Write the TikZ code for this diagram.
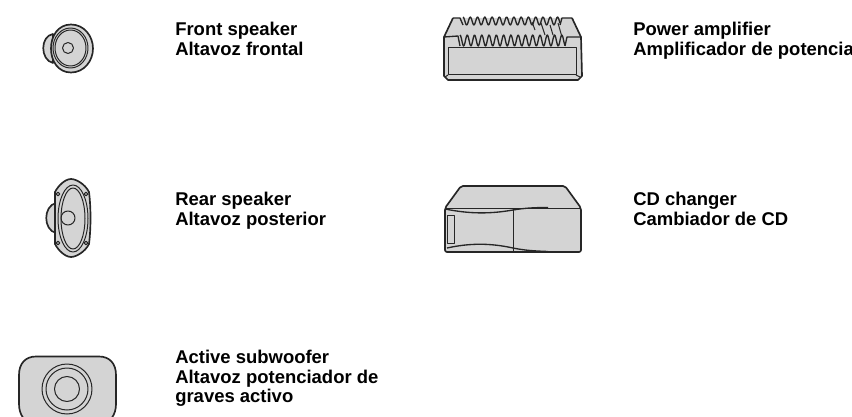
\documentclass[tikz,border=0pt]{standalone}
\usepackage{fontspec}
\setmainfont{Liberation Sans}
\definecolor{fillg}{gray}{0.83}
\tikzset{
 lbl/.style={anchor=north west,inner sep=0pt,align=left,font=\fontsize{13.85pt}{14.7pt}\selectfont\bfseries},
 ln/.style={draw=black!85,line width=0.75pt,line join=round},
 wv/.style={draw=black!85,line width=1pt,line join=round},
 hv/.style={draw=black!85,line width=1.25pt,line join=round},
 gf/.style={fill=fillg}
}
\begin{document}
\begin{tikzpicture}[x=0.75pt,y=-0.75pt]
\useasboundingbox (0,0) rectangle (852,417);
\clip (0,0) rectangle (852,417);
% Front speaker
\draw[hv,gf] (53,34) .. controls (40,36) and (40,60) .. (53,63) -- cycle;
\draw[hv,gf] (71,24.5) .. controls (84,24.5) and (93,36) .. (93,48.5) .. controls (93,61) and (84,72.5) .. (71,72.5) .. controls (58,72.5) and (51,61) .. (51,48.5) .. controls (51,36) and (58,24.5) .. (71,24.5) -- cycle;
\draw[ln] (70.5,48) ellipse (17.5 and 20);
\draw[ln] (70.5,48) ellipse (15.5 and 18);
\draw[ln] (68,48) circle (5.5);
% Rear speaker
\draw[hv,gf] (56,203) .. controls (43,206) and (43,230) .. (56,233) -- cycle;
\draw[hv,gf] (71,179) .. controls (76,179) and (85,184) .. (89,192) .. controls (91,208) and (91,228) .. (89,244) .. controls (85,252) and (76,257) .. (71,257) .. controls (65,257) and (58,250) .. (55,244) -- (55,192) .. controls (58,186) and (65,179) .. (71,179) -- cycle;
\draw[ln] (73,218.5) ellipse (15 and 33.5);
\draw[ln] (73,218.5) ellipse (12 and 30.5);
\draw[ln] (68,218) circle (7);
\draw[ln] (58,194) circle (1.8);
\draw[ln] (86,194) circle (1.8);
\draw[ln] (58,243) circle (1.8);
\draw[ln] (86,243) circle (1.8);
% Subwoofer
\draw[hv,gf] (36,356.5) -- (99,356.5) .. controls (110,356.5) and (116,364) .. (116,375) -- (116,404) .. controls (116,415) and (110,424) .. (99,424) -- (36,424) .. controls (25,424) and (19,415) .. (19,404) -- (19,375) .. controls (19,364) and (25,356.5) .. (36,356.5) -- cycle;
\draw[ln] (67,389) circle (25);
\draw[ln] (67,389) circle (21);
\draw[ln] (67,389) circle (12.5);
% Amplifier
\path[gf] (444,37) -- (453,18) -- (572,18) -- (581,37) -- (582,76) -- (578,80) -- (448,80) -- (444,76) -- cycle;
\draw[wv] plot[smooth,samples=150,domain=0:97] ({463+\x},{21+4*cos(\x*49.5+180)});
\draw[wv] (453,18) -- (460,18) -- (463,25);
\draw[wv] (560,25) -- (562,18) -- (572,18);
\draw[wv] plot[smooth,samples=150,domain=0:105] ({460+\x},{40.5+5.5*cos(\x*49.5+180)});
\draw[wv] (444,37) -- (458,36) -- (460,46);
\draw[wv] (565,46) -- (567,37) -- (581,37);
\draw[hv] (453,18) -- (444,37) -- (444,76) -- (448,80) -- (578,80) -- (582,76) -- (581,37) -- (572,18);
\draw[ln] (448,48) rectangle (576,75);
\draw[ln] (448,75) -- (445,77);
\draw[ln] (576,75) -- (580,77);
\draw[ln] (532,22) -- (535,30);
\draw[ln] (541,23) -- (545,35);
\draw[ln] (550,25) -- (553,35);
\draw[ln] (558,23) -- (562,37);
% CD changer
\draw[hv,gf,rounded corners=1.5pt] (445,208) -- (461,186) -- (565,186) -- (581,208) -- (581,252) -- (445,252) -- cycle;
\draw[ln] (445,208) -- (581,208);
\draw[ln] (513,208) -- (513,252);
\draw[wv] (445,209) .. controls (470,214) and (490,214) .. (513,210) .. controls (525,208) and (535,207.5) .. (548,207.5);
\draw[wv] (447,248) .. controls (470,243) and (490,243) .. (513,248) .. controls (525,250.5) and (535,251) .. (548,251.5);
\draw[ln] (447,215) rectangle (454,243);
% Labels
\node[lbl] (a) at (175,22) {Front speaker\\Altavoz frontal};
\node[lbl] (b) at (175,192) {Rear speaker\\Altavoz posterior};
\node[lbl] (c) at (175,350) {Active subwoofer\\Altavoz potenciador de\\graves activo};
\node[lbl] (d) at (633,22) {Power amplifier\\Amplificador de potencia};
\node[lbl] (e) at (633,192) {CD changer\\Cambiador de CD};
\end{tikzpicture}
\end{document}
